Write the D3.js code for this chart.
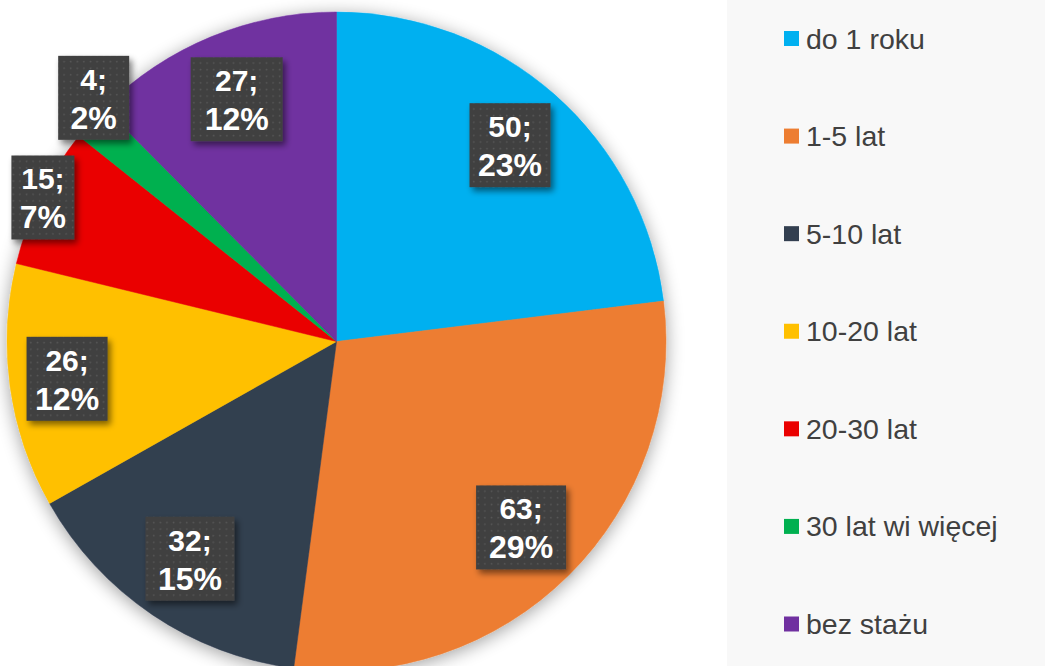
<!DOCTYPE html>
<html>
<head>
<meta charset="utf-8">
<script src="https://cdn.jsdelivr.net/npm/d3@7"></script>
<style>
  html, body { margin: 0; padding: 0; background: #ffffff; }
  svg { display: block; }
</style>
</head>
<body>
<svg id="chart" width="1045" height="666"></svg>
<script>
// ---- data ----
const categories = ["do 1 roku", "1-5 lat", "5-10 lat", "10-20 lat", "20-30 lat", "30 lat wi więcej", "bez stażu"];
const values = [50, 63, 32, 26, 15, 4, 27];
const colors = ["#00B0F0", "#ED7D31", "#333F50", "#FFC000", "#EA0000", "#00B050", "#7030A0"];

// ---- layout (not data) ----
const W = 1045, H = 666;
const cx = 336.5, cy = 341.5, R = 329.5;
const labelRadius = 262;
const labelPlacement = {
  "10-20 lat": { r: 272 },
  "20-30 lat": { r: 327 },
  "30 lat wi więcej": { r: 344, a: 315.1 }
};
const labelBoxWidths = [81, 90, 89, 81, 63, 71, 92];
const labelBoxHeight = 84;

const svg = d3.select("#chart");
const defs = svg.append("defs");

// pie soft shadow
const f = defs.append("filter").attr("id", "pieShadow")
  .attr("x", "-20%").attr("y", "-20%").attr("width", "140%").attr("height", "140%");
f.append("feGaussianBlur").attr("in", "SourceAlpha").attr("stdDeviation", 9).attr("result", "b");
f.append("feOffset").attr("in", "b").attr("dx", 0).attr("dy", 3).attr("result", "o");
f.append("feComponentTransfer").attr("in", "o").attr("result", "s")
  .append("feFuncA").attr("type", "linear").attr("slope", 0.38);
const fm = f.append("feMerge");
fm.append("feMergeNode").attr("in", "s");
fm.append("feMergeNode").attr("in", "SourceGraphic");

// label box shadow
const f2 = defs.append("filter").attr("id", "boxShadow")
  .attr("x", "-30%").attr("y", "-30%").attr("width", "160%").attr("height", "160%");
f2.append("feGaussianBlur").attr("in", "SourceAlpha").attr("stdDeviation", 3).attr("result", "b");
f2.append("feOffset").attr("in", "b").attr("dx", 3).attr("dy", 4).attr("result", "o");
f2.append("feComponentTransfer").attr("in", "o").attr("result", "s")
  .append("feFuncA").attr("type", "linear").attr("slope", 0.5);
const fm2 = f2.append("feMerge");
fm2.append("feMergeNode").attr("in", "s");
fm2.append("feMergeNode").attr("in", "SourceGraphic");

// dotted pattern for label boxes
const pat = defs.append("pattern").attr("id", "dots")
  .attr("patternUnits", "userSpaceOnUse").attr("width", 6.6).attr("height", 6.6);
pat.append("rect").attr("width", 6.6).attr("height", 6.6).attr("fill", "#3f3f3f");
pat.append("rect").attr("x", 2.6).attr("y", 2.6).attr("width", 1.6).attr("height", 1.6).attr("fill", "#585858");

// legend panel
svg.append("rect").attr("x", 727).attr("y", 0).attr("width", W - 727).attr("height", H)
  .attr("fill", "#f8f8f8");

// pie
const data = categories.map((c, i) => ({ cat: c, value: values[i], color: colors[i], i }));
const total = d3.sum(values);
const pie = d3.pie().value(d => d.value).sort(null).startAngle(0).endAngle(2 * Math.PI);
const arcs = pie(data);
const arc = d3.arc().innerRadius(0).outerRadius(R);

const g = svg.append("g").attr("transform", `translate(${cx},${cy})`);
g.append("g").attr("filter", "url(#pieShadow)")
  .selectAll("path").data(arcs).join("path")
  .attr("d", arc)
  .attr("fill", d => d.data.color)
  .attr("stroke", d => d.data.color)
  .attr("stroke-width", 0.5);

// labels
const lg = g.append("g");
arcs.forEach(a => {
  const p = labelPlacement[a.data.cat] || {};
  const r = p.r || labelRadius;
  const ang = p.a !== undefined ? p.a * Math.PI / 180 : (a.startAngle + a.endAngle) / 2;
  const x = r * Math.sin(ang), y = -r * Math.cos(ang);
  const bw = labelBoxWidths[a.data.i], bh = labelBoxHeight;
  const grp = lg.append("g").attr("transform", `translate(${x},${y})`);
  grp.append("rect")
    .attr("x", -bw / 2).attr("y", -bh / 2).attr("width", bw).attr("height", bh)
    .attr("fill", "url(#dots)").attr("filter", "url(#boxShadow)");
  const pct = Math.round(a.data.value / total * 100);
  grp.append("text")
    .attr("x", 0).attr("y", -bh / 2 + 34)
    .attr("text-anchor", "middle")
    .attr("font-family", "'Liberation Sans', Arial, sans-serif")
    .attr("font-weight", "bold").attr("font-size", 30)
    .attr("fill", "#ffffff")
    .text(a.data.value + ";");
  grp.append("text")
    .attr("x", 0).attr("y", -bh / 2 + 73)
    .attr("text-anchor", "middle")
    .attr("font-family", "'Liberation Sans', Arial, sans-serif")
    .attr("font-weight", "bold").attr("font-size", 32)
    .attr("fill", "#ffffff")
    .text(pct + "%");
});

// legend
const legY = d3.scalePoint().domain(categories).range([38.5, 624]);
const leg = svg.append("g");
const items = leg.selectAll("g").data(data).join("g")
  .attr("transform", d => `translate(784,${legY(d.cat)})`);
items.append("rect").attr("x", 0).attr("y", -7.5).attr("width", 15).attr("height", 15)
  .attr("fill", d => d.color);
items.append("text").attr("x", 22).attr("y", 10)
  .attr("font-family", "'Liberation Sans', Arial, sans-serif")
  .attr("font-size", 28.5).attr("fill", "#404040")
  .text(d => d.cat);
</script>
</body>
</html>
